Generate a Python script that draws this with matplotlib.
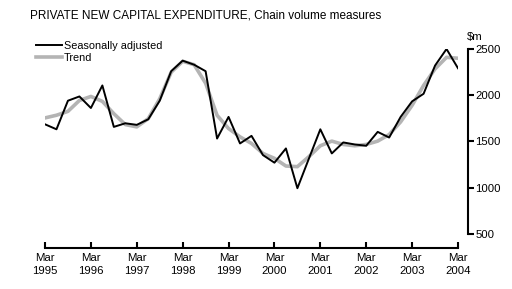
import numpy as np
import matplotlib
matplotlib.use("Agg")
import matplotlib.pyplot as plt

plt.rcParams['font.family'] = ['Liberation Sans', 'DejaVu Sans']

# quarterly, Mar 1995 .. Mar 2004
quarters = np.arange(37)
seas_adj = [1686, 1632, 1941, 1987, 1862, 2106, 1658, 1697, 1680, 1740, 1941, 2260, 2374,
            2330, 2260, 1532, 1766, 1479, 1561, 1353, 1271, 1425, 995, 1314, 1632, 1371,
            1490, 1468, 1454, 1604, 1543, 1766, 1934, 2016, 2321, 2500, 2292]
trend = [1755, 1784, 1826, 1944, 1987, 1934, 1801, 1683, 1658, 1747, 1962, 2249, 2367,
         2330, 2130, 1783, 1640, 1550, 1479, 1371, 1318, 1235, 1228, 1336, 1454, 1504,
         1468, 1454, 1468, 1504, 1575, 1712, 1891, 2106, 2285, 2410, 2400]
year_labels = ["Mar\n%d" % y for y in range(1995, 2005)]
y_ticks = [500, 1000, 1500, 2000, 2500]

fig = plt.figure(figsize=(5.12, 2.89), dpi=100)
ax = fig.add_axes([45/512, (289-234)/289, 413/512, 185/289])

ax.plot(quarters, trend, color='#b4b4b4', linewidth=2.6, label='Trend', zorder=2)
ax.plot(quarters, seas_adj, color='black', linewidth=1.4, label='Seasonally adjusted', zorder=3)

ax.set_xlim(0, 36)
ax.set_ylim(500, 2500)

for s in ['top', 'left']:
    ax.spines[s].set_visible(False)
ax.spines['bottom'].set_position(('outward', 10))
ax.spines['right'].set_position(('outward', 7))
ax.spines['bottom'].set_linewidth(1.5)
ax.spines['right'].set_linewidth(1.5)

ax.set_xticks(quarters[::4])
ax.set_xticklabels(year_labels, fontsize=8.2, linespacing=1.35)
ax.tick_params(axis='x', direction='in', length=4, width=1.5, pad=4)

ax.yaxis.tick_right()
ax.set_yticks(y_ticks)
ax.set_yticklabels([str(v) for v in y_ticks], fontsize=8.2)
ax.tick_params(axis='y', direction='out', length=4, width=1.5, pad=1.5)

fig.text(467/512, 1 - 37/289, "$m", fontsize=8.2, ha='left', va='center')
fig.text(30/512, 1 - 15/289, "PRIVATE NEW CAPITAL EXPENDITURE, Chain volume measures",
         fontsize=8.5, ha='left', va='center')

handles, labels = ax.get_legend_handles_labels()
ax.legend(handles[::-1], labels[::-1], loc='upper left', bbox_to_anchor=(36/512, 1 - 41/289),
          bbox_transform=fig.transFigure, frameon=False, fontsize=7.8, handlelength=2.4,
          handletextpad=0.2, labelspacing=0.2, borderpad=0, borderaxespad=0)

fig.savefig("out.png", dpi=100)
